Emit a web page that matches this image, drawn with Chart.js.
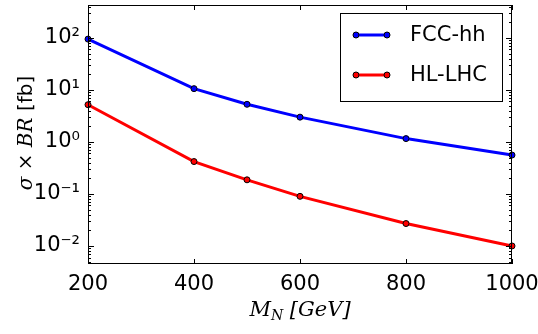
<!DOCTYPE html>
<html>
<head>
<meta charset="utf-8">
<script src="https://cdn.jsdelivr.net/npm/chart.js@4/dist/chart.umd.min.js"></script>
<style>
  html, body { margin: 0; padding: 0; background: #fff; }
  #wrap { width: 538px; height: 334px; }
</style>
</head>
<body>
<div id="wrap"><canvas id="chart" width="538" height="334"></canvas></div>
<script>
// Dados
const masses = [200, 400, 500, 600, 800, 1000];
const fccValues = [95, 10.6, 5.3, 3.0, 1.16, 0.56];
const hlValues = [5.2, 0.42, 0.187, 0.09, 0.027, 0.01];
const seriesLabels = ['FCC-hh', 'HL-LHC'];
const seriesColors = ['#0000ff', '#ff0000'];
const xTicks = [200, 400, 600, 800, 1000];
const yDecades = [-2, -1, 0, 1, 2];

const sup = { '-': '\u207B', '0': '\u2070', '1': '\u00B9', '2': '\u00B2' };
function powLabel(n) {
  return '10' + String(n).split('').map(c => sup[c]).join('');
}

function toPoints(values) {
  return masses.map((m, i) => ({ x: m, y: values[i] }));
}

// Moldura, marcas internas, títulos e legenda
const framePlugin = {
  id: 'frame',
  afterDraw(chart) {
    const ctx = chart.ctx;
    const a = chart.chartArea;
    const xs = chart.scales.x;
    const ys = chart.scales.y;
    ctx.save();
    ctx.strokeStyle = '#000';
    ctx.lineWidth = 1;
    ctx.strokeRect(Math.round(a.left) + 0.5, Math.round(a.top) + 0.5,
      Math.round(a.right - a.left) - 1, Math.round(a.bottom - a.top) - 1);

    // marcas do eixo x
    ctx.beginPath();
    xTicks.forEach(v => {
      const px = Math.round(xs.getPixelForValue(v)) + 0.5;
      ctx.moveTo(px, a.bottom); ctx.lineTo(px, a.bottom - 5);
      ctx.moveTo(px, a.top); ctx.lineTo(px, a.top + 5);
    });
    // marcas do eixo y (maiores e menores)
    for (let d = -3; d <= 2; d++) {
      for (let k = 1; k <= 9; k++) {
        const v = k * Math.pow(10, d);
        if (v < ys.min || v > ys.max) continue;
        const py = Math.round(ys.getPixelForValue(v)) + 0.5;
        const len = k === 1 ? 6 : 3;
        ctx.moveTo(a.left, py); ctx.lineTo(a.left + len, py);
        ctx.moveTo(a.right, py); ctx.lineTo(a.right - len, py);
      }
    }
    ctx.stroke();

    // título do eixo y
    ctx.save();
    ctx.translate(27, 133);
    ctx.rotate(-Math.PI / 2);
    ctx.textBaseline = 'middle';
    const p1 = '\u03C3 \u00D7 BR';
    const p2 = ' [fb]';
    ctx.font = 'italic 20px "DejaVu Serif"';
    const w1 = ctx.measureText(p1).width;
    ctx.font = '20px "DejaVu Sans"';
    const w2 = ctx.measureText(p2).width;
    let sx = -(w1 + w2) / 2;
    ctx.fillStyle = '#000';
    ctx.font = 'italic 20px "DejaVu Serif"';
    ctx.textAlign = 'left';
    ctx.fillText(p1, sx, 0);
    ctx.font = '20px "DejaVu Sans"';
    ctx.fillText(p2, sx + w1, 0);
    ctx.restore();

    // título do eixo x
    ctx.fillStyle = '#000';
    ctx.textBaseline = 'alphabetic';
    ctx.textAlign = 'left';
    ctx.font = 'italic 21px "DejaVu Serif"';
    const tM = 'M';
    const tRest = ' [GeV]';
    const wM = ctx.measureText(tM).width;
    const wR = ctx.measureText(tRest).width;
    ctx.font = 'italic 14px "DejaVu Serif"';
    const wN = ctx.measureText('N').width;
    let x0 = 300 - (wM + wN + wR) / 2;
    const base = 316;
    ctx.font = 'italic 21px "DejaVu Serif"';
    ctx.fillText(tM, x0, base);
    ctx.font = 'italic 14px "DejaVu Serif"';
    ctx.fillText('N', x0 + wM, base + 4);
    ctx.font = 'italic 21px "DejaVu Serif"';
    ctx.fillText(tRest, x0 + wM + wN, base);

    // legenda
    const lx = 340.5, ly = 13.5, lw = 162, lh = 88;
    ctx.fillStyle = '#fff';
    ctx.fillRect(lx, ly, lw, lh);
    ctx.strokeStyle = '#000';
    ctx.strokeRect(lx, ly, lw, lh);
    seriesLabels.forEach((lab, i) => {
      const y = 35 + i * 40;
      ctx.strokeStyle = seriesColors[i];
      ctx.lineWidth = 3;
      ctx.beginPath();
      ctx.moveTo(356, y); ctx.lineTo(387, y);
      ctx.stroke();
      [356, 387].forEach(cx => {
        ctx.beginPath();
        ctx.arc(cx, y, 3, 0, Math.PI * 2);
        ctx.fillStyle = seriesColors[i];
        ctx.fill();
        ctx.lineWidth = 1;
        ctx.strokeStyle = '#000';
        ctx.stroke();
      });
      ctx.fillStyle = '#000';
      ctx.font = '21px "DejaVu Sans"';
      ctx.textBaseline = 'middle';
      ctx.textAlign = 'left';
      ctx.fillText(lab, 410, y + 1);
    });
    ctx.restore();
  }
};

const datasets = [fccValues, hlValues].map((vals, i) => ({
  label: seriesLabels[i],
  data: toPoints(vals),
  borderColor: seriesColors[i],
  backgroundColor: seriesColors[i],
  borderWidth: 3,
  pointRadius: 3,
  pointBorderColor: '#000',
  pointBorderWidth: 1,
  pointBackgroundColor: seriesColors[i],
  tension: 0,
  clip: false
}));

// zerar o espaço extra que o Chart.js reserva para os rótulos
function noPad(scale) {
  scale.paddingTop = 0;
  scale.paddingBottom = 0;
  scale.paddingLeft = 0;
  scale.paddingRight = 0;
}

new Chart(document.getElementById('chart'), {
  type: 'line',
  data: { datasets },
  options: {
    responsive: false,
    animation: false,
    layout: { padding: { top: 0, right: 26, left: 0, bottom: 0 } },
    plugins: { legend: { display: false }, tooltip: { enabled: false } },
    scales: {
      x: {
        type: 'linear',
        min: 200,
        max: 1000,
        afterFit(scale) { scale.height = 70; noPad(scale); },
        afterBuildTicks(scale) { scale.ticks = xTicks.map(v => ({ value: v })); },
        grid: { display: false, drawTicks: false },
        border: { display: false },
        ticks: {
          color: '#000',
          padding: 8,
          maxRotation: 0,
          font: { family: 'DejaVu Sans', size: 21 },
          callback: v => String(v)
        }
      },
      y: {
        type: 'logarithmic',
        min: 0.0045,
        max: 430,
        afterFit(scale) { scale.width = 88; noPad(scale); },
        afterBuildTicks(scale) { scale.ticks = yDecades.map(d => ({ value: Math.pow(10, d) })); },
        grid: { display: false, drawTicks: false },
        border: { display: false },
        ticks: {
          color: '#000',
          padding: 8,
          font: { family: 'DejaVu Sans', size: 21 },
          callback: v => powLabel(Math.round(Math.log10(v)))
        }
      }
    }
  },
  plugins: [framePlugin]
});
</script>
</body>
</html>
